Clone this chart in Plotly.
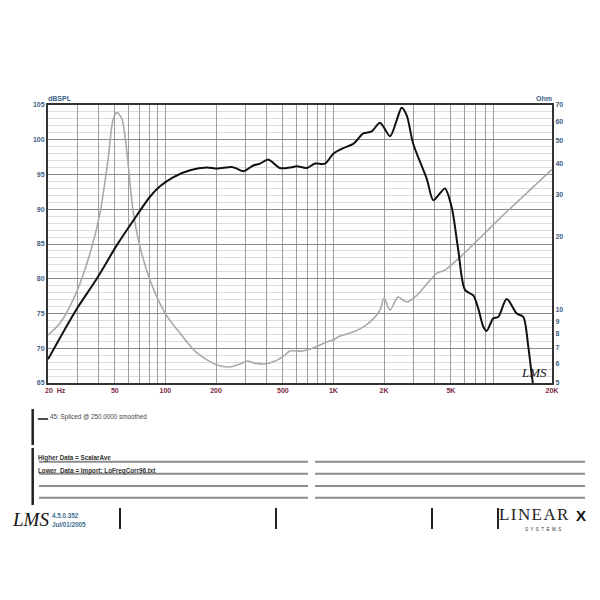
import numpy as np
import plotly.graph_objects as go

# impedance curve (grey, right axis, ohm)
imp_freq = [20, 23.6, 29.4, 35.6, 40.8, 45.5, 48.7, 51.3, 54.9, 58.8,
            64.1, 70.6, 80.9, 99.4, 122, 154, 203, 242, 278, 306,
            341, 391, 449, 515, 551, 650, 755, 916, 994, 1094,
            1308, 1500, 1720, 1894, 2000, 2172, 2423, 2741, 3140, 4138,
            4614, 5668, 10000, 20000]
imp_ohm = [7.88, 8.83, 11.74, 17.15, 25.1, 41.4, 60.5, 65.1, 61.7, 45.6,
           25.8, 18.2, 13.3, 9.71, 8.03, 6.65, 5.93, 5.82, 5.99, 6.16,
           6.04, 5.99, 6.16, 6.52, 6.77, 6.77, 6.97, 7.38, 7.52, 7.81,
           8.11, 8.50, 9.17, 9.99, 11.2, 9.99, 11.3, 10.78, 11.5, 14.2,
           14.6, 16.5, 24.2, 38.0]

# SPL curve (black, left axis, dB)
spl_freq = [20, 29.4, 39.0, 51.3, 67.5, 80.9, 92.8, 111, 140, 176,
            203, 248, 266, 291, 333, 366, 410, 481, 551, 604,
            693, 777, 891, 998, 1146, 1312, 1506, 1690, 1894, 2172,
            2380, 2548, 2730, 2988, 3590, 3932, 4309, 4614, 5058, 5536,
            6068, 6802, 7280, 7800, 8168, 8946, 9574, 10746, 12332, 13496,
            14456, 15478, 16070]
spl_db = [68.4, 75.5, 80.0, 84.8, 89.1, 91.8, 93.3, 94.6, 95.6, 96.0,
          95.85, 96.08, 95.85, 95.46, 96.3, 96.57, 97.14, 95.93, 96.0, 96.2,
          95.93, 96.57, 96.57, 98.0, 98.8, 99.4, 100.9, 101.2, 102.45, 100.5,
          102.8, 104.6, 103.5, 99.4, 94.4, 91.3, 92.3, 93.0, 90.3, 84.1,
          78.4, 77.6, 75.7, 73.1, 72.5, 74.3, 74.5, 77.1, 75.0, 74.5,
          70.2, 64.6, 63.0]

x_grid = [m * 10 ** d for d in (1, 2, 3) for m in range(1, 10)][1:] + [20000]
x_labels = {50: "50", 100: "100", 200: "200", 500: "500", 1000: "1K",
            2000: "2K", 5000: "5K", 10000: "10K", 20000: "20K"}
ohm_ticks = [5, 6, 7, 8, 9, 10, 20, 30, 40, 50, 60, 70]

BLUE = "#3d5e85"
MAROON = "#7d1f45"
LINE_GREY = "#8c8c8c"


# page pixel -> paper coords (plot area spans x 48..552, y 105..383 on the page)
def px(x):
    return (x - 48) / 504


def py(y):
    return (383 - y) / 278


fig = go.Figure()
fig.add_trace(go.Scatter(
    x=imp_freq, y=imp_ohm, yaxis="y", mode="lines",
    line=dict(color="#a9a9a9", width=1.6, shape="spline", smoothing=0.8),
    showlegend=False
))
fig.add_trace(go.Scatter(
    x=spl_freq, y=spl_db, yaxis="y2", mode="lines",
    line=dict(color="#111111", width=2, shape="spline", smoothing=0.8),
    showlegend=False
))

# the page body has an 8px margin, so margins are shifted by 8
fig.update_layout(
    width=600, height=600,
    margin=dict(l=40, r=56, t=97, b=225),
    paper_bgcolor="white", plot_bgcolor="white",
    font=dict(family="Liberation Sans", color="#333"),
    xaxis=dict(
        type="log", range=[np.log10(20), np.log10(20000)],
        tickvals=x_grid,
        ticktext=[x_labels.get(v, "") for v in x_grid],
        tickfont=dict(size=7, color=MAROON, weight="bold"),
        showgrid=True, gridcolor="#9c9c9c", gridwidth=1,
        ticks="", showline=True, linecolor="#333", linewidth=2, mirror=True,
        zeroline=False, automargin=False
    ),
    yaxis=dict(
        type="log", range=[np.log10(5), np.log10(70)], side="right",
        tickvals=ohm_ticks, ticktext=[str(v) for v in ohm_ticks],
        tickfont=dict(size=7, color=BLUE, weight="bold"),
        showgrid=False, ticks="", zeroline=False, automargin=False,
        showline=True, linecolor="#333", linewidth=2
    ),
    yaxis2=dict(
        overlaying="y", side="left", range=[65, 105], dtick=5,
        tickfont=dict(size=7, color=BLUE, weight="bold"),
        showgrid=True, gridcolor="#8a8a8a", gridwidth=1.2,
        minor=dict(dtick=1, showgrid=True, gridcolor="#dcdcdc", gridwidth=1),
        ticks="", zeroline=False, automargin=False,
        showline=True, linecolor="#333", linewidth=2
    ),
)

shapes = []
# legend box bars
for y0, y1 in [(409, 445), (448, 505)]:
    shapes.append(dict(type="line", xref="paper", yref="paper",
                       x0=px(32.7), x1=px(32.7), y0=py(y0), y1=py(y1),
                       line=dict(color="#222", width=2.5)))
shapes.append(dict(type="line", xref="paper", yref="paper",
                   x0=px(38), x1=px(48), y0=py(419), y1=py(419),
                   line=dict(color="#111", width=1.5)))
# notes lines
for yy in [461.7, 473.7, 486, 497.7]:
    for xa, xb in [(39, 308), (315, 585)]:
        shapes.append(dict(type="line", xref="paper", yref="paper",
                           x0=px(xa), x1=px(xb), y0=py(yy), y1=py(yy),
                           line=dict(color=LINE_GREY, width=2)))
# footer separators
for xx in [120, 276, 432, 498]:
    shapes.append(dict(type="line", xref="paper", yref="paper",
                       x0=px(xx), x1=px(xx), y0=py(508), y1=py(529),
                       line=dict(color="#222", width=2)))
fig.update_layout(shapes=shapes)


def note(x, y, text, size=6.5, color="#333", anchor="left", vanchor="middle",
         **font):
    fig.add_annotation(x=px(x), y=py(y), xref="paper", yref="paper",
                       text=text, showarrow=False, xanchor=anchor,
                       yanchor=vanchor, borderpad=0,
                       font=dict(size=size, color=color, **font))


note(47, 98.5, "dBSPL", size=7, color=BLUE, weight="bold")
note(553, 98.5, "Ohm", size=7, color=BLUE, anchor="right", weight="bold")
note(44, 390, "20  Hz", size=7, color=MAROON, weight="bold")
note(520, 372, "<i>LMS</i>", size=13, color="#111", family="Liberation Serif")

note(49, 417.5, "45: Spliced @ 250.0000 smoothed", size=6.3, color="#444")
note(36.5, 458.5, "Higher Data = ScalarAve", size=6.3, color="#333", weight="bold")
note(36.5, 470.5, "Lower  Data = Import: LoFreqCorr96.txt", size=6.3,
     color="#333", weight="bold")

note(11, 519, "<i>LMS</i>", size=19, color="#111", family="Liberation Serif")
note(51, 515, "4.5.0.352", size=6.3, color="#3f6f8f", weight="bold")
note(51, 524, "Jul/01/2005", size=6.3, color="#3f6f8f", weight="bold")

note(498, 525, "L\u200aI\u200aN\u200aE\u200aA\u200aR", size=17, color="#222",
     vanchor="bottom", family="Liberation Serif")
note(587, 524.5, "X", size=15, color="#111", anchor="right", vanchor="bottom",
     weight="bold")
note(543, 525.5, "S  Y  S  T  E  M  S", size=4.5, color="#333", anchor="center",
     vanchor="top")

fig.write_html("out.html")
